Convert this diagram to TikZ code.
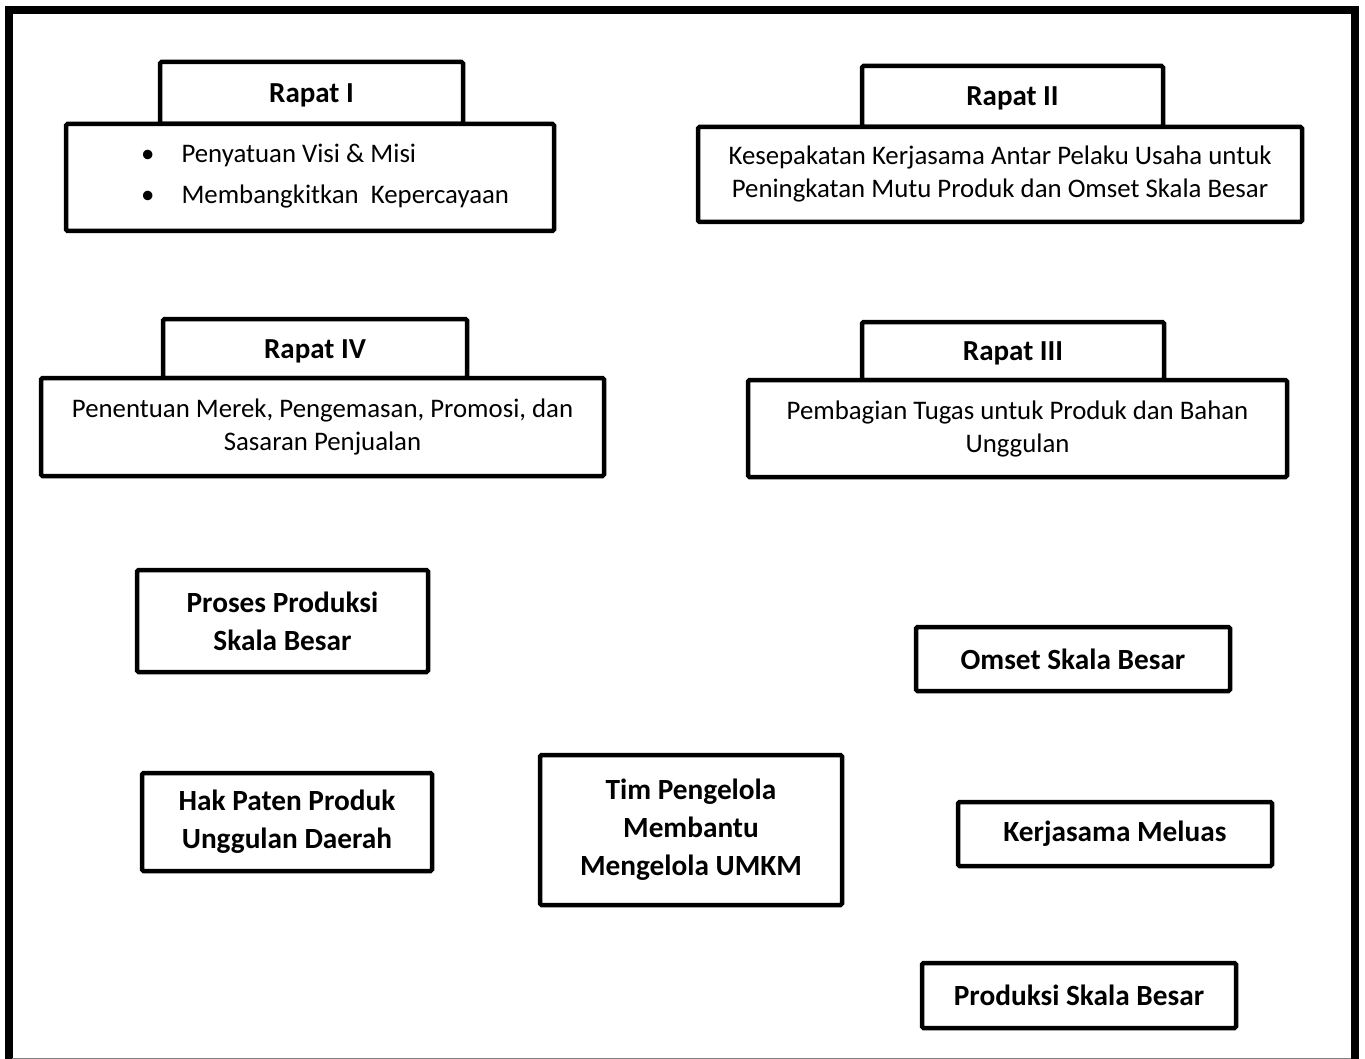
\documentclass[tikz,border=0pt]{standalone}
\usepackage{fontspec}
\setmainfont{Carlito}
\begin{document}
\begin{tikzpicture}[x=1pt,y=-1pt,
  box/.style={draw=black, fill=white, line width=4.5pt, rounded corners=1.5pt, inner sep=0pt, align=center},
  small/.style={font=\fontsize{26.8}{33}\selectfont},
  big/.style={font=\fontsize{29.3}{38}\selectfont\bfseries},
  title/.style={font=\fontsize{29}{33}\selectfont\bfseries, text height=21pt, text depth=2pt}]
\useasboundingbox (0,0) rectangle (1365,1059);
% frame
\draw[line width=8pt] (8.5,1059) -- (8.5,10) -- (1355,10) -- (1355,1059);
\draw[gray, line width=1pt] (12,1058) -- (1351,1058);

% Rapat I
\node[box, title, minimum width=303pt, minimum height=62pt] (t1) at (311.5,93) {Rapat I};
\node[box, minimum width=488pt, minimum height=107pt] (r1) at (310,177.5) {};
\node[small, anchor=west, inner sep=0pt] (r1t) at (141,176.5) {\begin{tabular}{@{}l@{\hspace{27pt}}l@{}}
\textbullet & Penyatuan Visi \& Misi\\[8pt]
\textbullet & Membangkitkan\ \ Kepercayaan
\end{tabular}};

% Rapat II
\node[box, title, minimum width=301pt, minimum height=61pt] (t2) at (1012.5,96.5) {Rapat II};
\node[box, small, minimum width=604pt, minimum height=95pt] (r2) at (1000,174.5) {Kesepakatan Kerjasama Antar Pelaku Usaha untuk\\Peningkatan Mutu Produk dan Omset Skala Besar};

% Rapat IV
\node[box, title, minimum width=304pt, minimum height=59pt] (t4) at (315,348.5) {Rapat IV};
\node[box, small, minimum width=563pt, minimum height=98pt] (r4) at (322.5,427) {Penentuan Merek, Pengemasan, Promosi, dan\\Sasaran Penjualan};

% Rapat III
\node[box, title, minimum width=302pt, minimum height=58pt] (t3) at (1013,351) {Rapat III};
\node[box, small, minimum width=539pt, minimum height=97pt] (r3) at (1017.5,428.5) {Pembagian Tugas untuk Produk dan Bahan\\Unggulan};

% other boxes
\node[box, big, minimum width=291pt, minimum height=102pt] (proses) at (282.5,621) {Proses Produksi\\Skala Besar};
\node[box, big, minimum width=314pt, minimum height=64pt] (omset) at (1073,659) {Omset Skala Besar};
\node[box, big, minimum width=290pt, minimum height=98pt] (hak) at (287,822) {Hak Paten Produk\\Unggulan Daerah};
\node[box, big, minimum width=302pt, minimum height=150pt] (tim) at (691,830) {Tim Pengelola\\Membantu\\Mengelola UMKM};
\node[box, big, minimum width=314pt, minimum height=64pt] (kerja) at (1115,834) {Kerjasama Meluas};
\node[box, big, minimum width=314pt, minimum height=65pt] (prod) at (1079,995.5) {Produksi Skala Besar};
\end{tikzpicture}
\end{document}
